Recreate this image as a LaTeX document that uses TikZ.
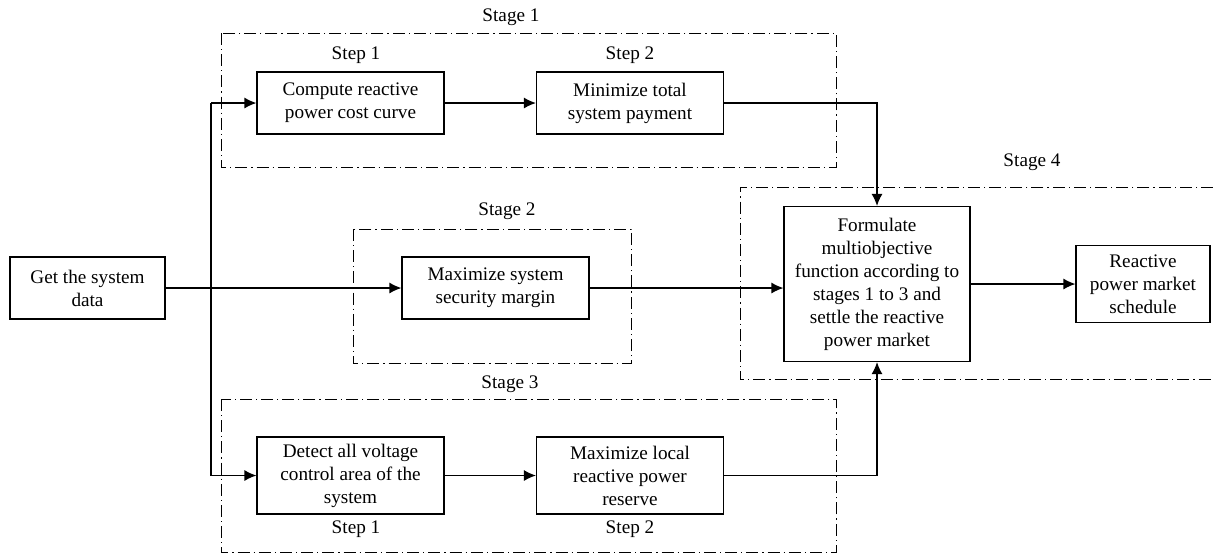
\documentclass[tikz,border=0pt]{standalone}
\usepackage{fontspec}
\setmainfont{Liberation Serif}
\usetikzlibrary{positioning,arrows.meta}
\tikzset{
  >={Latex[length=6pt,width=5.5pt]},
  every node/.style={font=\fontsize{9.6}{11.5}\selectfont},
  % --- nodes
  blk/.style   = {draw, line width=0.6pt, align=center, inner sep=2pt},
  small/.style = {blk, minimum width=93.5pt, minimum height=31pt},
  tall/.style  = {blk, minimum width=93.5pt, minimum height=38.5pt},
  lbl/.style   = {inner sep=0pt},
  % --- frames and edges
  stage/.style = {line width=0.5pt, dash pattern=on 6pt off 2pt on 0.6pt off 2pt},
  e/.style     = {->, line width=0.6pt},
  ln/.style    = {line width=0.6pt},
}

\begin{document}
\begin{tikzpicture}[x=0.5pt,y=-0.5pt]
  \useasboundingbox (0,0) rectangle (1213,554);

  % stage frames
  \draw[stage] (221,33) rectangle (836,167);
  \draw[stage] (353,229) rectangle (631,363);
  \draw[stage] (221,399) rectangle (836,552);
  \draw[stage] (1213,187) -| (740,379) -- (1213,379);
  \node[lbl] (stg1) at (511,17)  {Stage 1};
  \node[lbl] (stg2) at (507,211) {Stage 2};
  \node[lbl] (stg3) at (510,384) {Stage 3};
  \node[lbl] (stg4) at (1032,162) {Stage 4};

  % blocks
  \node[blk, minimum width=77.5pt, minimum height=31pt] (get) at (87.5,288) {Get the system\\data};
  \node[small] (cost) at (350.5,103) {Compute reactive\\power cost curve};
  \node[small] (pay)  at (630,103)   {Minimize total\\system payment};
  \node[small] (sec)  at (495.5,288) {Maximize system\\security margin};
  \node[tall]  (volt) at (350.5,475.5) {Detect all voltage\\control area of the\\system};
  \node[tall]  (res)  at (630,475.5)   {Maximize local\\reactive power\\reserve};
  \node[blk, minimum width=93pt, minimum height=77.5pt] (form) at (877,284)
     {Formulate\\multiobjective\\function according to\\stages 1 to 3 and\\settle the reactive\\power market};
  \node[blk, minimum width=67pt, minimum height=38.5pt] (sched) at (1143,284)
     {Reactive\\power market\\schedule};

  \node[lbl] (st11) at (356,55)  {Step 1};
  \node[lbl] (st12) at (630,55)  {Step 2};
  \node[lbl] (st31) at (356,529) {Step 1};
  \node[lbl] (st32) at (630,529) {Step 2};

  % connectors
  \coordinate (bustop) at (211,103);
  \coordinate (busbot) at (211,475.5);
  \draw[ln] (bustop) -- (busbot);
  \draw[e] (bustop) -- (cost);
  \draw[e] (busbot) -- (volt);
  \draw[e] (get) -- (sec);
  \draw[e] (cost) -- (pay);
  \draw[e] (volt) -- (res);
  \draw[e] (pay) -| (form);
  \draw[e] (res) -| (form);
  \draw[e] (sec) -- (sec -| form.west);
  \draw[e] (form) -- (sched);
\end{tikzpicture}
\end{document}
